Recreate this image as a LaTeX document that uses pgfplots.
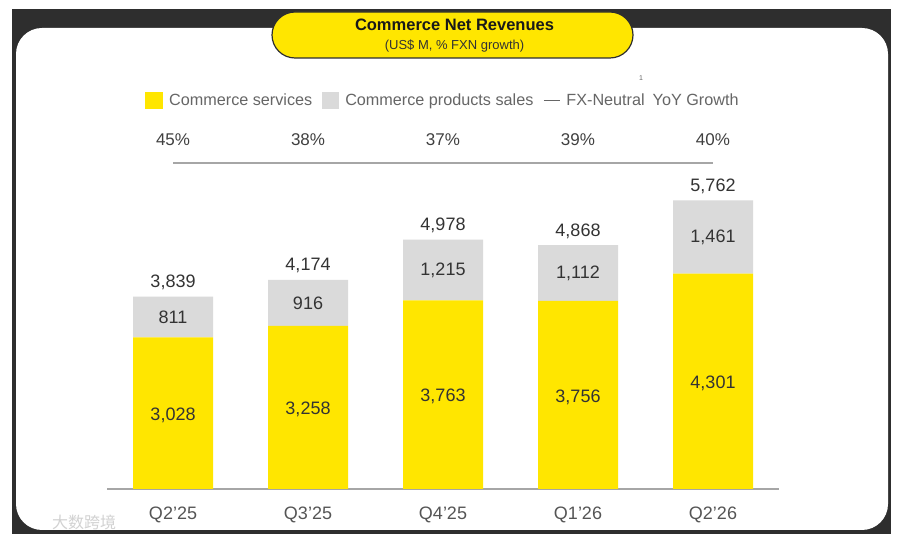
\documentclass[border=0pt]{standalone}
\usepackage{pgfplots}
\pgfplotsset{compat=1.18}
\usepackage{pgfplotstable}
\usepackage{fontspec}
\setmainfont{Liberation Sans}
\newfontfamily\cjk{Noto Sans CJK SC}
\definecolor{mlyellow}{HTML}{FFE600}
\definecolor{mlgray}{HTML}{DADADA}
\definecolor{framec}{HTML}{2E2E2E}
\definecolor{txt}{HTML}{333333}
\definecolor{lbl}{HTML}{555555}
\definecolor{legc}{HTML}{666666}
\definecolor{linec}{HTML}{A6A6A6}
\newcommand\fs[1]{\fontsize{#1bp}{#1bp}\selectfont}

\pgfplotstableread{
x serv prod total
0 3028 811 3839
1 3258 916 4174
2 3763 1215 4978
3 3756 1112 4868
4 4301 1461 5762
}\revenue

\pgfplotsset{
  base/.style={
    at={(107bp,53bp)}, anchor=south west,
    scale only axis, width=672bp, height=370.74bp,
    xmin=-0.489, xmax=4.489, ymin=0, ymax=7400,
    enlargelimits=false, clip=false,
    /pgf/number format/assume math mode=true,
  }
}

\begin{document}
\begin{tikzpicture}[x=1bp,y=1bp]
\useasboundingbox (0,0) rectangle (900,542);
\fill[white] (0,0) rectangle (900,542);
\fill[framec] (12,8) rectangle (891,532.5);
\fill[white, rounded corners=26bp] (16,12) rectangle (888,514);
\draw[fill=mlyellow, draw=framec, line width=1.2bp, rounded corners=23bp] (272,484) rectangle (633,530);
\node[font=\bfseries\fs{16.5}, text=black!90] at (454.5,517.5) {Commerce Net Revenues};
\node[font=\fs{13}, text=txt] at (454.5,496) {(US\$ M, \% FXN growth)};
\node[font=\fs{7}, text=legc] at (641,464) {1};
\node[font=\cjk\fs{16}, text=gray!35] at (84,20) {大数跨境};

\begin{axis}[base,
  ybar stacked, bar width=0.5926,
  axis x line*=bottom, axis y line=none,
  x axis line style={-, draw=linec, line width=1.3bp},
  xtick=data, xticklabels={Q2'25,Q3'25,Q4'25,Q1'26,Q2'26},
  major tick length=0,
  xticklabel style={font=\fs{18}, text=lbl, anchor=base, yshift=-31bp},
  legend columns=-1,
  legend style={draw=none, fill=none, font=\fs{16.2}, text=legc,
    at={(0.0565,1.049)}, anchor=west, inner sep=0pt,
    /tikz/every odd column/.append style={column sep=4bp},
    /tikz/every even column/.append style={column sep=8bp},
    cells={anchor=west}},
]
\addplot[fill=mlyellow, draw=none,
  legend image code/.code={\fill[mlyellow] (0bp,-8.5bp) rectangle (18bp,8.5bp);}]
  table[x=x, y=serv]{\revenue};
\addlegendentry{Commerce services}
\addplot[fill=mlgray, draw=none,
  legend image code/.code={\fill[mlgray] (0bp,-8.5bp) rectangle (17bp,8.5bp);}]
  table[x=x, y=prod]{\revenue};
\addlegendentry{Commerce products sales}
\addlegendimage{legend image code/.code={\draw[legc, line width=1bp] (0bp,0bp) -- (16bp,0bp);}}
\addlegendentry{FX-Neutral\hspace{8bp}YoY Growth}
\end{axis}

\begin{axis}[base, axis lines=none]
\addplot[draw=none, nodes near coords, point meta=explicit,
  every node near coord/.append style={font=\fs{18}, text=txt, anchor=center, yshift=-2bp}]
  table[x=x, y expr=\thisrow{serv}/2, meta=serv]{\revenue};
\addplot[draw=none, nodes near coords, point meta=explicit,
  every node near coord/.append style={font=\fs{18}, text=txt, anchor=center}]
  table[x=x, y expr=\thisrow{serv}+\thisrow{prod}/2, meta=prod]{\revenue};
\addplot[draw=none, nodes near coords, point meta=explicit,
  every node near coord/.append style={font=\fs{18}, text=txt, anchor=base, yshift=9bp}]
  table[x=x, y=total, meta=total]{\revenue};
\addplot[linec, line width=1.6bp, mark=none, nodes near coords, point meta=explicit symbolic,
  every node near coord/.append style={font=\fs{17}, text=black!75, anchor=base, yshift=17bp}]
  coordinates {(0,6507)[45\%] (1,6507)[38\%] (2,6507)[37\%] (3,6507)[39\%] (4,6507)[40\%]};
\end{axis}
\end{tikzpicture}
\end{document}
